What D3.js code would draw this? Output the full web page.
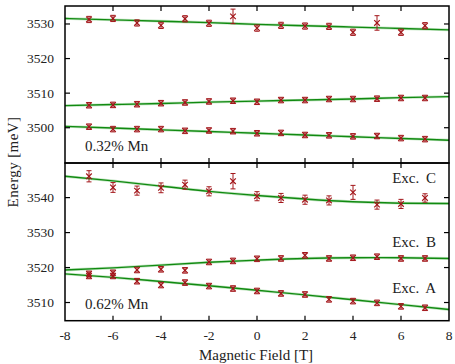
<!DOCTYPE html>
<html>
<head>
<meta charset="utf-8">
<script src="https://cdn.jsdelivr.net/npm/d3@7"></script>
<style>
  body { margin: 0; background: #fff; }
</style>
</head>
<body>
<svg id="chart" width="455" height="364"></svg>
<script>
// field values where the points were measured
const fields = [-7, -6, -5, -4, -3, -2, -1, 0, 1, 2, 3, 4, 5, 6, 7]
const fitFields = [-8, -6, -4, -2, 0, 2, 4, 6, 8]

// 0.32% Mn panel
const top1 = [3531.3, 3531.6, 3530.3, 3529.6, 3531.5, 3530.2, 3532.2, 3528.8, 3529.6, 3529.4, 3529.3, 3527.6, 3530.3, 3527.6, 3529.5]
const top1Err = [0.9, 0.9, 0.9, 0.9, 0.9, 0.9, 2.1, 0.9, 0.9, 0.9, 0.9, 0.9, 2.1, 0.9, 0.9]
const top2 = [3506.5, 3506.6, 3506.8, 3507.1, 3507.3, 3507.6, 3507.8, 3507.5, 3508.0, 3508.0, 3508.3, 3508.3, 3508.4, 3508.6, 3508.6]
const top3 = [3500.3, 3499.6, 3499.6, 3499.6, 3499.1, 3499.2, 3499.0, 3498.4, 3498.5, 3497.9, 3497.8, 3497.5, 3497.6, 3497.0, 3496.7]
const smallErr = 0.8
const fitTop1 = [3531.6, 3531.2, 3530.8, 3530.4, 3529.9, 3529.5, 3529.1, 3528.7, 3528.3]
const fitTop2 = [3506.4, 3506.7, 3507.0, 3507.4, 3507.7, 3508.0, 3508.3, 3508.7, 3509.0]
const fitTop3 = [3500.4, 3499.9, 3499.4, 3498.9, 3498.4, 3497.9, 3497.4, 3496.9, 3496.4]

// 0.62% Mn panel
const excC = [3546.1, 3542.9, 3542.0, 3542.8, 3543.7, 3541.8, 3544.7, 3540.4, 3539.9, 3539.4, 3539.2, 3541.5, 3538.0, 3538.2, 3539.9]
const excCErr = [1.6, 1.4, 1.3, 1.4, 1.3, 1.3, 2.2, 1.3, 1.3, 1.3, 1.3, 2.0, 1.3, 1.3, 1.2]
const excB = [3518.2, 3518.5, 3519.3, 3519.5, 3519.2, 3521.6, 3521.9, 3522.5, 3522.6, 3523.5, 3522.6, 3522.8, 3523.1, 3522.6, 3522.6]
const excA = [3517.6, 3517.6, 3516.1, 3515.0, 3515.7, 3514.7, 3514.0, 3513.3, 3512.6, 3512.3, 3510.9, 3510.4, 3509.9, 3508.9, 3508.5]
const fitC = [3546.1, 3544.8, 3543.3, 3541.8, 3540.6, 3539.6, 3538.8, 3538.4, 3538.3]
const fitB = [3519.3, 3519.9, 3520.7, 3521.5, 3522.1, 3522.6, 3522.8, 3522.8, 3522.6]
const fitA = [3518.2, 3517.2, 3516.0, 3514.8, 3513.5, 3512.2, 3510.8, 3509.4, 3508.0]

const xTicks = [-8, -6, -4, -2, 0, 2, 4, 6, 8]
const topTicks = [3500, 3510, 3520, 3530]
const botTicks = [3510, 3520, 3530, 3540]

const red = '#a3161a', green = '#118a11'
const svg = d3.select('#chart')
const left = 65, right = 449

const x = d3.scaleLinear().domain([-8, 8]).range([left, right])
const yTop = d3.scaleLinear().domain([3489.8, 3535.2]).range([163, 6])
const yBot = d3.scaleLinear().domain([3504.8, 3549.9]).range([320.7, 163])

function addText(parent, px, py, size, str, anchor) {
  return parent.append('text').attr('x', px).attr('y', py)
    .attr('text-anchor', anchor || 'start')
    .style('font-family', 'Liberation Serif')
    .style('font-size', size + 'px')
    .style('fill', '#222')
    .text(str)
}

function panel(y, ticks, series, fits, label, isBottom) {
  const g = svg.append('g')
  const [y0, y1] = y.range()

  // fit curves
  const line = d3.line().x((d) => x(d[0])).y((d) => y(d[1])).curve(d3.curveNatural)
  fits.forEach((f) => {
    const pts = fitFields.map((fx, i) => [fx, f[i]])
    g.append('path').attr('d', line(pts)).attr('fill', 'none')
      .attr('stroke', '#c4e6c4').attr('stroke-width', 2.8)
    g.append('path').attr('d', line(pts)).attr('fill', 'none')
      .attr('stroke', green).attr('stroke-width', 1.4)
  })

  // points with error bars
  series.forEach((s) => {
    fields.forEach((fx, i) => {
      const cx = x(fx), cy = y(s.v[i])
      const e = Array.isArray(s.e) ? s.e[i] : s.e
      const ya = y(s.v[i] + e), yb = y(s.v[i] - e)
      const pg = g.append('g').attr('stroke', red).attr('stroke-width', 1).attr('fill', 'none')
      pg.append('line').attr('x1', cx).attr('x2', cx).attr('y1', ya).attr('y2', yb)
      pg.append('line').attr('x1', cx - 2.5).attr('x2', cx + 2.5).attr('y1', ya).attr('y2', ya)
      pg.append('line').attr('x1', cx - 2.5).attr('x2', cx + 2.5).attr('y1', yb).attr('y2', yb)
      pg.append('path').attr('stroke-width', 1.2)
        .attr('d', `M${cx - 2.8},${cy - 2.8}L${cx + 2.8},${cy + 2.8}M${cx - 2.8},${cy + 2.8}L${cx + 2.8},${cy - 2.8}`)
    })
  })

  // y ticks both sides, inward
  ticks.forEach((t) => {
    g.append('line').attr('x1', left).attr('x2', left + 5).attr('y1', y(t)).attr('y2', y(t))
      .attr('stroke', '#000').attr('stroke-width', 1.2)
    g.append('line').attr('x1', right).attr('x2', right - 5).attr('y1', y(t)).attr('y2', y(t))
      .attr('stroke', '#000').attr('stroke-width', 1.2)
    addText(g, 54, y(t) + 4.5, 13.5, t, 'end')
  })
  // x ticks top and bottom, inward
  xTicks.slice(1, -1).forEach((t) => {
    g.append('line').attr('x1', x(t)).attr('x2', x(t)).attr('y1', y0).attr('y2', y0 - 5)
      .attr('stroke', '#000').attr('stroke-width', 1.2)
    g.append('line').attr('x1', x(t)).attr('x2', x(t)).attr('y1', y1).attr('y2', y1 + 5)
      .attr('stroke', '#000').attr('stroke-width', 1.2)
  })
  if (isBottom) {
    xTicks.forEach((t) => addText(g, x(t), y0 + 19.5, 13.5, t, 'middle'))
  }

  g.append('rect').attr('x', left).attr('y', y1).attr('width', right - left).attr('height', y0 - y1)
    .attr('fill', 'none').attr('stroke', '#000').attr('stroke-width', 1.5)

  addText(g, 85, y0 - 12, 15, label)
}

panel(yTop, topTicks,
  [{ v: top1, e: top1Err }, { v: top2, e: smallErr }, { v: top3, e: smallErr }],
  [fitTop1, fitTop2, fitTop3], '0.32% Mn', false)

panel(yBot, botTicks,
  [{ v: excC, e: excCErr }, { v: excB, e: smallErr }, { v: excA, e: smallErr }],
  [fitC, fitB, fitA], '0.62% Mn', true)

// series labels
const excLabels = [['Exc. C', 183], ['Exc. B', 247], ['Exc. A', 293]]
excLabels.forEach((d) => {
  addText(svg, 436, d[1], 15, d[0], 'end').style('word-spacing', '3px')
})

addText(svg, 256, 360, 15, 'Magnetic Field [T]', 'middle')
addText(svg, 0, 0, 15, 'Energy [meV]', 'middle')
  .attr('transform', 'translate(18,162) rotate(-90)')
  .style('letter-spacing', '0.4px')
</script>
</body>
</html>
